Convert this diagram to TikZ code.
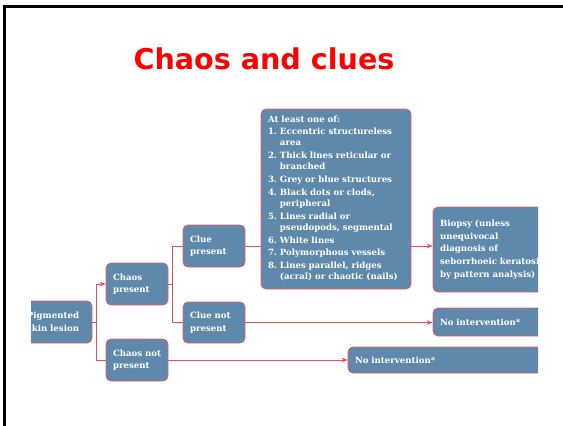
\documentclass[tikz,border=0pt]{standalone}
\usepackage{fontspec}
\setmainfont{DejaVu Serif}
\newfontfamily\titlefont{DejaVu Sans}
\usetikzlibrary{arrows.meta}
\definecolor{boxblue}{RGB}{95,137,170}
\definecolor{boxedge}{RGB}{226,92,104}
\definecolor{linkred}{RGB}{242,72,84}
\definecolor{titlered}{RGB}{255,0,0}

\begin{document}
\begin{tikzpicture}[x=1pt,y=-1pt,
  box/.style={draw=boxedge, line width=0.8pt, fill=boxblue, rounded corners=5pt,
    text=white, font=\bfseries\fontsize{8.6}{12.6}\selectfont, align=left,
    inner xsep=7pt, inner ysep=0pt},
  link/.style={draw=linkred, line width=0.7pt},
  arrowlink/.style={link, -{Stealth[length=6pt,width=4.5pt]}}
]
\useasboundingbox (0,0) rectangle (563,426);

% slide frame
\draw[line width=3pt] (4.5,426) -- (4.5,6.5) -- (563,6.5);

% title
\node[text=titlered, font=\titlefont\bfseries\fontsize{28.6}{32}\selectfont] (title) at (264,59) {Chaos and clues};

\begin{scope}
\clip (31,0) rectangle (538,426);

\node[box, text width=58pt, minimum height=42pt] (pig) at (56,322) {Pigmented\\\mbox{skin lesion}};
\node[box, text width=48pt, minimum height=42pt] (chaosP) at (137,284) {Chaos\\present};
\node[box, text width=48pt, minimum height=42pt] (chaosN) at (137,360) {\mbox{Chaos not}\\present};
\node[box, text width=48pt, minimum height=42pt] (clueP) at (214,246) {Clue\\present};
\node[box, text width=48pt, minimum height=41pt] (clueN) at (214,322.5) {\mbox{Clue not}\\present};

\node[box, text width=136pt, minimum height=180pt] (list) at (336,199) {%
  \fontsize{8.6}{11.3}\selectfont
  \begin{tabular}{@{}r@{\hspace{3pt}}l@{}}
  \multicolumn{2}{@{}l@{}}{At least one of:}\\[0.6pt]
  1. & Eccentric structureless\\ & area\\[1.4pt]
  2. & Thick lines reticular or\\ & branched\\[1.4pt]
  3. & Grey or blue structures\\[1.4pt]
  4. & Black dots or clods,\\ & peripheral\\[1.4pt]
  5. & Lines radial or\\ & pseudopods, segmental\\[1.4pt]
  6. & White lines\\[1.4pt]
  7. & Polymorphous vessels\\[1.4pt]
  8. & Lines parallel, ridges\\ & (acral) or chaotic (nails)
  \end{tabular}};

\node[box, text width=101pt, minimum height=85pt] (biopsy) at (490.5,249.5)
  {Biopsy (unless\\unequivocal\\diagnosis of\\\mbox{seborrhoeic keratosis}\\\mbox{by pattern analysis)}};
\node[box, text width=101pt, minimum height=28pt] (noint1) at (490.5,322) {No intervention*};
\node[box, text width=186pt, minimum height=26pt] (noint2) at (448,360) {No intervention*};

% connectors
\coordinate (j1) at ([xshift=4pt]pig.east);
\coordinate (j2) at ([xshift=4pt]chaosP.east);
\draw[arrowlink] (pig.east) -- (j1) |- (chaosP.west);
\draw[link] (j1) |- (chaosN.west);
\draw[link] (chaosP.east) -- (j2) |- (clueP.west);
\draw[link] (j2) |- (clueN.west);
\draw[link] (clueP.east) -- (list.west |- clueP.east);
\draw[arrowlink] (list.east |- clueP.east) -- (biopsy.west |- clueP.east);
\draw[arrowlink] (clueN.east) -- (noint1.west |- clueN.east);
\draw[arrowlink] (chaosN.east) -- (noint2.west |- chaosN.east);
\end{scope}
\end{tikzpicture}
\end{document}
